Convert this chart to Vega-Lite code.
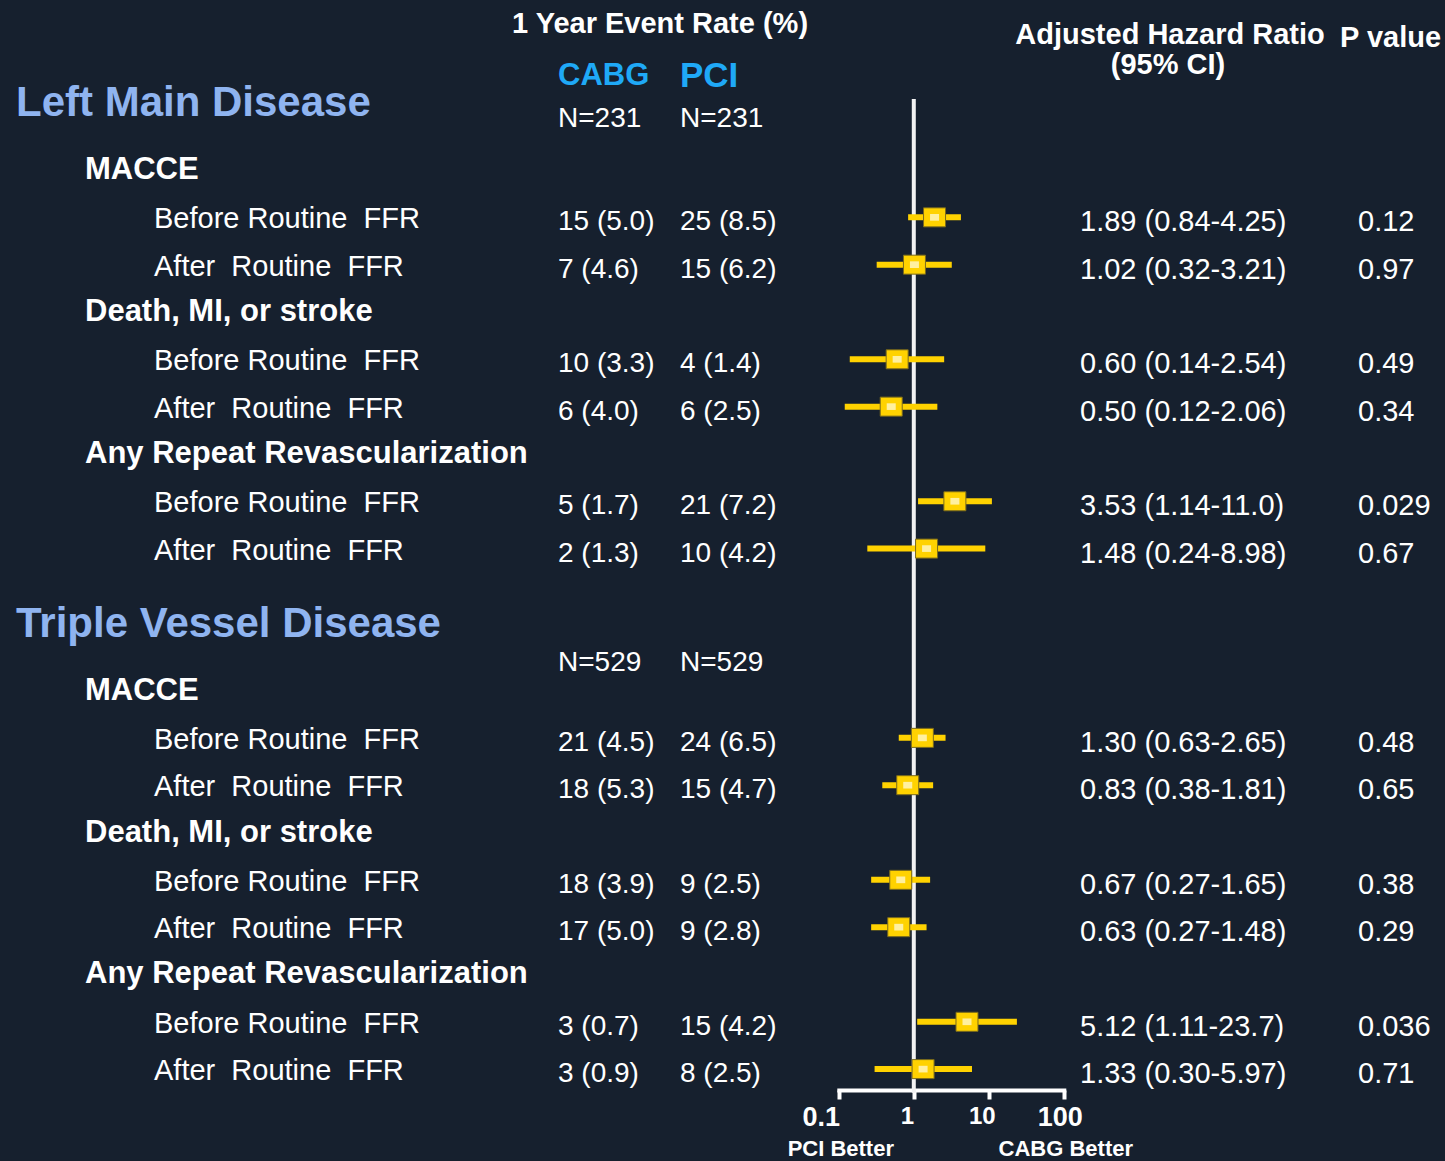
{
  "$schema": "https://vega.github.io/schema/vega-lite/v6.json",
  "width": 1445,
  "height": 1161,
  "autosize": {"type": "none"},
  "padding": 0,
  "background": "#16202e",
  "config": {
    "view": {"stroke": null},
    "text": {"font": "Liberation Sans", "baseline": "middle", "align": "left", "color": "#ffffff"}
  },
  "datasets": {
    "outline": [
      {"line": 4, "depth": 0, "text": "Left Main Disease"},
      {"line": 7, "depth": 1, "text": "MACCE"},
      {"line": 9, "depth": 2, "text": "Before Routine\u00a0 FFR"},
      {"line": 11, "depth": 2, "text": "After\u00a0 Routine\u00a0 FFR"},
      {"line": 13, "depth": 1, "text": "Death, MI, or stroke"},
      {"line": 15, "depth": 2, "text": "Before Routine\u00a0 FFR"},
      {"line": 17, "depth": 2, "text": "After\u00a0 Routine\u00a0 FFR"},
      {"line": 19, "depth": 1, "text": "Any Repeat Revascularization"},
      {"line": 21, "depth": 2, "text": "Before Routine\u00a0 FFR"},
      {"line": 23, "depth": 2, "text": "After\u00a0 Routine\u00a0 FFR"},
      {"line": 26, "depth": 0, "text": "Triple Vessel Disease"},
      {"line": 29, "depth": 1, "text": "MACCE"},
      {"line": 31, "depth": 2, "text": "Before Routine\u00a0 FFR"},
      {"line": 33, "depth": 2, "text": "After\u00a0 Routine\u00a0 FFR"},
      {"line": 35, "depth": 1, "text": "Death, MI, or stroke"},
      {"line": 37, "depth": 2, "text": "Before Routine\u00a0 FFR"},
      {"line": 39, "depth": 2, "text": "After\u00a0 Routine\u00a0 FFR"},
      {"line": 41, "depth": 1, "text": "Any Repeat Revascularization"},
      {"line": 43, "depth": 2, "text": "Before Routine\u00a0 FFR"},
      {"line": 45, "depth": 2, "text": "After\u00a0 Routine\u00a0 FFR"}
    ],
    "cohorts": [
      {"line": 5, "CABG": "N=231", "PCI": "N=231"},
      {"line": 28, "CABG": "N=529", "PCI": "N=529"}
    ],
    "results": [
      {"line": 9, "CABG": "15 (5.0)", "PCI": "25 (8.5)", "hr": 1.89, "lo": 0.84, "hi": 4.25, "hrText": "1.89 (0.84-4.25)", "p": "0.12"},
      {"line": 11, "CABG": "7 (4.6)", "PCI": "15 (6.2)", "hr": 1.02, "lo": 0.32, "hi": 3.21, "hrText": "1.02 (0.32-3.21)", "p": "0.97"},
      {"line": 15, "CABG": "10 (3.3)", "PCI": "4 (1.4)", "hr": 0.60, "lo": 0.14, "hi": 2.54, "hrText": "0.60 (0.14-2.54)", "p": "0.49"},
      {"line": 17, "CABG": "6 (4.0)", "PCI": "6 (2.5)", "hr": 0.50, "lo": 0.12, "hi": 2.06, "hrText": "0.50 (0.12-2.06)", "p": "0.34"},
      {"line": 21, "CABG": "5 (1.7)", "PCI": "21 (7.2)", "hr": 3.53, "lo": 1.14, "hi": 11.0, "hrText": "3.53 (1.14-11.0)", "p": "0.029"},
      {"line": 23, "CABG": "2 (1.3)", "PCI": "10 (4.2)", "hr": 1.48, "lo": 0.24, "hi": 8.98, "hrText": "1.48 (0.24-8.98)", "p": "0.67"},
      {"line": 31, "CABG": "21 (4.5)", "PCI": "24 (6.5)", "hr": 1.30, "lo": 0.63, "hi": 2.65, "hrText": "1.30 (0.63-2.65)", "p": "0.48"},
      {"line": 33, "CABG": "18 (5.3)", "PCI": "15 (4.7)", "hr": 0.83, "lo": 0.38, "hi": 1.81, "hrText": "0.83 (0.38-1.81)", "p": "0.65"},
      {"line": 37, "CABG": "18 (3.9)", "PCI": "9 (2.5)", "hr": 0.67, "lo": 0.27, "hi": 1.65, "hrText": "0.67 (0.27-1.65)", "p": "0.38"},
      {"line": 39, "CABG": "17 (5.0)", "PCI": "9 (2.8)", "hr": 0.63, "lo": 0.27, "hi": 1.48, "hrText": "0.63 (0.27-1.48)", "p": "0.29"},
      {"line": 43, "CABG": "3 (0.7)", "PCI": "15 (4.2)", "hr": 5.12, "lo": 1.11, "hi": 23.7, "hrText": "5.12 (1.11-23.7)", "p": "0.036"},
      {"line": 45, "CABG": "3 (0.9)", "PCI": "8 (2.5)", "hr": 1.33, "lo": 0.30, "hi": 5.97, "hrText": "1.33 (0.30-5.97)", "p": "0.71"}
    ]
  },
  "encoding": {
    "y": {
      "field": "line",
      "type": "quantitative",
      "scale": {"domain": [0, 48], "range": [4.4, 1140.1], "zero": false, "nice": false},
      "axis": null
    }
  },
  "resolve": {"scale": {"x": "independent", "size": "independent"}},
  "layer": [
    {
      "data": {"name": "outline"},
      "encoding": {
        "x": {
          "field": "depth",
          "type": "ordinal",
          "scale": {"type": "point", "domain": [0, 1, 2], "range": [16, 154], "padding": 0},
          "axis": null
        },
        "text": {"field": "text"}
      },
      "layer": [
        {
          "transform": [{"filter": "datum.depth == 0"}],
          "mark": {"type": "text", "fontSize": 42, "fontWeight": "bold", "color": "#8fb4f0", "dy": 4}
        },
        {
          "transform": [{"filter": "datum.depth == 1"}],
          "mark": {"type": "text", "fontSize": 31, "fontWeight": "bold"}
        },
        {
          "transform": [{"filter": "datum.depth == 2"}],
          "mark": {"type": "text", "fontSize": 29, "dy": 2}
        }
      ]
    },
    {
      "encoding": {
        "x": {
          "field": "arm",
          "type": "nominal",
          "scale": {"type": "point", "domain": ["CABG", "PCI"], "range": [558, 680], "padding": 0},
          "axis": null
        }
      },
      "layer": [
        {
          "data": {"values": [{"line": 1, "text": "1 Year Event Rate (%)"}]},
          "mark": {"type": "text", "fontSize": 29, "fontWeight": "bold", "dx": -46, "dy": -4},
          "encoding": {"x": {"datum": "CABG"}, "text": {"field": "text"}}
        },
        {
          "data": {"values": [{"line": 3, "arm": "CABG"}, {"line": 3, "arm": "PCI"}]},
          "mark": {"type": "text", "fontWeight": "bold", "color": "#1fa9f7", "dy": 1},
          "encoding": {
            "text": {"field": "arm"},
            "size": {"field": "arm", "type": "nominal", "scale": {"domain": ["CABG", "PCI"], "range": [31, 35]}, "legend": null}
          }
        },
        {
          "data": {"name": "cohorts"},
          "transform": [{"fold": ["CABG", "PCI"], "as": ["arm", "cell"]}],
          "mark": {"type": "text", "fontSize": 28, "dy": -4},
          "encoding": {"text": {"field": "cell"}}
        },
        {
          "data": {"name": "results"},
          "transform": [{"fold": ["CABG", "PCI"], "as": ["arm", "cell"]}],
          "mark": {"type": "text", "fontSize": 28, "dy": 5},
          "encoding": {"text": {"field": "cell"}}
        }
      ]
    },
    {
      "layer": [
        {
          "data": {"values": [{"hr": 1, "top": 4, "bottom": 46}]},
          "mark": {"type": "rule", "color": "#f2f2f2", "strokeWidth": 4},
          "encoding": {
            "x": {"field": "hr", "type": "quantitative", "title": null, "scale": {"type": "log", "domain": [0.1, 100], "range": [838.8, 1063.8], "nice": false}},
            "y": {"field": "top", "type": "quantitative"},
            "y2": {"field": "bottom"}
          }
        },
        {
          "data": {"name": "results"},
          "mark": {"type": "rule", "color": "#ffd200", "strokeWidth": 6, "strokeCap": "butt"},
          "encoding": {
            "x": {
              "field": "lo",
              "type": "quantitative",
              "title": null,
              "scale": {"type": "log", "domain": [0.1, 100], "range": [838.8, 1063.8], "nice": false},
              "axis": {
                "orient": "bottom",
                "offset": -71,
                "values": [0.1, 1, 10, 100],
                "format": "~g",
                "title": null,
                "grid": false,
                "domainColor": "#ffffff",
                "domainWidth": 4,
                "domainCap": "square",
                "tickColor": "#ffffff",
                "tickWidth": 4,
                "tickSize": 9,
                "labelColor": "#ffffff",
                "labelFont": "Liberation Sans",
                "labelFontWeight": "bold",
                "labelFontSize": {"expr": "datum.value == 1 || datum.value == 10 ? 24 : 27"},
                "labelOffset": {"expr": "datum.value < 0.5 ? -18 : (datum.value > 50 ? -4 : -7)"},
                "labelPadding": 5,
                "labelFlush": false,
                "labelOverlap": false,
                "labelBound": false
              }
            },
            "x2": {"field": "hi"}
          }
        },
        {
          "data": {"name": "results"},
          "mark": {"type": "point", "shape": "M-1,-0.864H1V0.864H-1Z", "size": 484, "filled": true, "fill": "#ffd200", "stroke": "#7a6a1c", "strokeWidth": 1, "opacity": 1},
          "encoding": {"x": {"field": "hr", "type": "quantitative", "title": null}}
        },
        {
          "data": {"name": "results"},
          "mark": {"type": "point", "shape": "M-1,-0.74H1V0.74H-1Z", "size": 81, "filled": true, "fill": "#fff0a0", "strokeWidth": 0, "opacity": 1},
          "encoding": {"x": {"field": "hr", "type": "quantitative", "title": null}}
        },
        {
          "data": {"values": [{"note": "PCI Better", "hr": 0.1, "line": 49}, {"note": "CABG Better", "hr": 100, "line": 49}]},
          "mark": {"type": "text", "fontSize": 22, "fontWeight": "bold", "align": "center", "baseline": "alphabetic", "dy": -8, "dx": 2},
          "encoding": {"x": {"field": "hr", "type": "quantitative", "title": null}, "text": {"field": "note"}}
        }
      ]
    },
    {
      "encoding": {
        "x": {
          "field": "col",
          "type": "nominal",
          "scale": {"type": "point", "domain": ["hrText", "p"], "range": [1080, 1358], "padding": 0},
          "axis": null
        }
      },
      "layer": [
        {
          "data": {"values": [{"line": 1, "text": "Adjusted Hazard Ratio"}]},
          "mark": {"type": "text", "fontSize": 29, "fontWeight": "bold", "align": "center", "dx": 90, "dy": 7},
          "encoding": {"x": {"datum": "hrText"}, "text": {"field": "text"}}
        },
        {
          "data": {"values": [{"line": 2, "text": "(95% CI)"}]},
          "mark": {"type": "text", "fontSize": 29, "fontWeight": "bold", "align": "center", "dx": 88, "dy": 13},
          "encoding": {"x": {"datum": "hrText"}, "text": {"field": "text"}}
        },
        {
          "data": {"values": [{"line": 1, "text": "P value"}]},
          "mark": {"type": "text", "fontSize": 29, "fontWeight": "bold", "dx": -18, "dy": 10},
          "encoding": {"x": {"datum": "p"}, "text": {"field": "text"}}
        },
        {
          "data": {"name": "results"},
          "transform": [{"fold": ["hrText", "p"], "as": ["col", "cell"]}],
          "mark": {"type": "text", "fontSize": 29, "dy": 5},
          "encoding": {"text": {"field": "cell"}}
        }
      ]
    }
  ]
}
